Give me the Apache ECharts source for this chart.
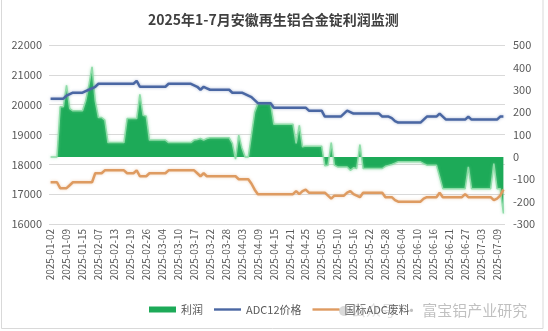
<!DOCTYPE html>
<html>
<head>
<meta charset="utf-8">
<script src="https://cdn.jsdelivr.net/npm/echarts@6/dist/echarts.min.js"></script>
<style>
html,body{margin:0;padding:0;background:#fff;}
#chart{width:548px;height:331px;}
</style>
</head>
<body>
<div id="chart"></div>
<script>
var titleText = '2025年1-7月安徽再生铝合金锭利润监测';
var seriesNames = ['利润', 'ADC12价格', '国标ADC废料'];

var dates = [
'2025-01-02','2025-01-03','2025-01-06','2025-01-07','2025-01-08',
'2025-01-09','2025-01-10','2025-01-11','2025-01-13','2025-01-14',
'2025-01-15','2025-01-16','2025-01-17','2025-01-21','2025-01-24',
'2025-02-07','2025-02-08','2025-02-10','2025-02-11','2025-02-12',
'2025-02-13','2025-02-14','2025-02-15','2025-02-17','2025-02-18',
'2025-02-19','2025-02-20','2025-02-21','2025-02-24','2025-02-25',
'2025-02-26','2025-02-27','2025-02-28','2025-03-01','2025-03-03',
'2025-03-04','2025-03-05','2025-03-06','2025-03-07','2025-03-08',
'2025-03-10','2025-03-11','2025-03-12','2025-03-13','2025-03-14',
'2025-03-17','2025-03-18','2025-03-19','2025-03-20','2025-03-21',
'2025-03-22','2025-03-24','2025-03-25','2025-03-26','2025-03-27',
'2025-03-28','2025-03-29','2025-03-31','2025-04-01','2025-04-02',
'2025-04-03','2025-04-04','2025-04-05','2025-04-07','2025-04-08',
'2025-04-09','2025-04-10','2025-04-11','2025-04-12','2025-04-14',
'2025-04-15','2025-04-16','2025-04-17','2025-04-18','2025-04-19',
'2025-04-21','2025-04-22','2025-04-23','2025-04-24','2025-04-24',
'2025-04-25','2025-04-27','2025-04-28','2025-04-29','2025-04-30',
'2025-05-05','2025-05-06','2025-05-07','2025-05-08','2025-05-09',
'2025-05-10','2025-05-12','2025-05-13','2025-05-14','2025-05-15',
'2025-05-16','2025-05-17','2025-05-19','2025-05-20','2025-05-21',
'2025-05-22','2025-05-23','2025-05-24','2025-05-26','2025-05-27',
'2025-05-28','2025-05-29','2025-05-30','2025-06-02','2025-06-03',
'2025-06-04','2025-06-05','2025-06-06','2025-06-07','2025-06-09',
'2025-06-10','2025-06-11','2025-06-12','2025-06-13','2025-06-14',
'2025-06-16','2025-06-17','2025-06-18','2025-06-19','2025-06-20',
'2025-06-21','2025-06-23','2025-06-24','2025-06-25','2025-06-26',
'2025-06-27','2025-06-28','2025-06-30','2025-07-01','2025-07-02',
'2025-07-03','2025-07-04','2025-07-05','2025-07-07','2025-07-08',
'2025-07-09','2025-07-10','2025-07-11'
];

var profit = [
0,0,0,224,224,320,216,206,206,206,
206,250,320,402,250,176,176,164,64,64,
64,64,64,64,171,171,171,171,279,186,
182,75,75,75,75,75,75,64,64,64,
64,64,64,64,64,75,78,82,75,82,
85,85,85,85,85,85,85,60,-10,97,
40,0,0,100,200,238,238,238,238,238,
146,146,146,146,146,146,146,60,141,45,
48,48,48,48,48,48,-40,-37,64,-37,
-45,-45,-45,-45,-60,-49,-52,55,-52,-52,
-52,-52,-52,-52,-52,-42,-38,-34,-28,-22,
-22,-22,-22,-22,-22,-22,-22,-30,-37,-37,
-37,-37,-89,-142,-142,-142,-142,-142,-142,-142,
-142,-45,-142,-142,-142,-142,-142,-142,-142,-30,
-142,-142,-253
];

var adc12 = [
20200,20200,20200,20200,20200,20300,20350,20400,20400,20400,
20400,20450,20500,20550,20600,20700,20700,20700,20700,20700,
20700,20700,20700,20700,20700,20700,20700,20800,20600,20600,
20600,20600,20600,20600,20600,20600,20600,20700,20700,20700,
20700,20700,20700,20700,20700,20650,20600,20500,20600,20550,
20500,20500,20500,20500,20500,20500,20500,20400,20400,20400,
20400,20350,20300,20250,20150,20050,20050,20050,20050,20050,
19900,19900,19900,19900,19900,19900,19900,19900,19900,19900,
19900,19800,19800,19800,19800,19800,19600,19600,19600,19600,
19600,19600,19700,19800,19750,19700,19700,19700,19700,19700,
19700,19700,19700,19700,19600,19600,19600,19550,19450,19400,
19400,19400,19400,19400,19400,19400,19400,19500,19600,19600,
19600,19600,19700,19600,19500,19500,19500,19500,19500,19500,
19500,19600,19500,19500,19500,19500,19500,19500,19500,19500,
19500,19600,19600
];

var scrap = [
17400,17400,17400,17200,17200,17200,17300,17400,17400,17400,
17400,17400,17400,17400,17700,17700,17700,17800,17800,17800,
17800,17800,17800,17800,17700,17700,17700,17800,17600,17600,
17600,17700,17700,17700,17700,17700,17700,17800,17800,17800,
17800,17800,17800,17800,17800,17800,17700,17600,17700,17600,
17600,17600,17600,17600,17600,17600,17600,17600,17600,17500,
17500,17500,17500,17350,17150,17000,17000,17000,17000,17000,
17000,17000,17000,17000,17000,17000,17000,17100,17000,17100,
17150,17050,17050,17050,17050,17050,17050,16950,16850,16950,
16950,16950,16950,17050,17100,17000,16950,16900,17050,17050,
17050,17050,17050,17050,17050,16900,16900,16900,16800,16750,
16750,16750,16750,16750,16750,16750,16750,16850,16900,16900,
16900,16900,17050,16900,16900,16900,16900,16900,16900,16900,
17000,16900,16900,16900,16900,16900,16900,16900,16900,16800,
16850,16950,17150
];

var leftTicks = {min: 16000, max: 22000, interval: 1000};
var rightTicks = {min: -300, max: 500, interval: 100};

var FONT = '"Noto Sans CJK SC", "Noto Sans", sans-serif';
var LINE_ICON = 'path://M0,0 L28,0 L28,2.5 L0,2.5 Z';
var chart = echarts.init(document.getElementById('chart'), null, {renderer: 'canvas'});
chart.setOption({
  animation: false,
  backgroundColor: '#ffffff',
  title: {
    text: titleText,
    left: 143, top: 8,
    textStyle: {fontFamily: FONT, fontSize: 14, fontWeight: 'bold', color: '#404040'}
  },
  grid: {left: 49, right: 43, top: 45, bottom: 107},
  legend: {
    left: 149, top: 304, padding: 0,
    itemWidth: 27, itemHeight: 6, itemGap: 11,
    textStyle: {fontFamily: FONT, fontSize: 11, color: '#595959'},
    data: [
      {name: seriesNames[0], icon: 'rect'},
      {name: seriesNames[1], icon: LINE_ICON},
      {name: seriesNames[2], icon: LINE_ICON}
    ]
  },
  xAxis: {
    type: 'category', data: dates, boundaryGap: true,
    axisLine: {show: false, onZero: false},
    axisTick: {show: false},
    axisLabel: {interval: 4, rotate: 90, fontFamily: FONT, fontSize: 10, color: '#595959', margin: 5}
  },
  yAxis: [
    {
      type: 'value', min: leftTicks.min, max: leftTicks.max, interval: leftTicks.interval,
      axisLine: {show: false}, axisTick: {show: false},
      splitLine: {lineStyle: {color: '#d9d9d9', width: 1}},
      axisLabel: {fontFamily: FONT, fontSize: 11, color: '#595959', margin: 7,
        formatter: function (v) { return String(v); }}
    },
    {
      type: 'value', position: 'right', min: rightTicks.min, max: rightTicks.max, interval: rightTicks.interval,
      axisLine: {show: false}, axisTick: {show: false}, splitLine: {show: false},
      axisLabel: {fontFamily: FONT, fontSize: 11, color: '#595959', margin: 8,
        formatter: function (v) { return String(v); }}
    }
  ],
  series: [
    {
      name: seriesNames[0], type: 'line', yAxisIndex: 1, data: profit,
      symbol: 'none', smooth: false,
      lineStyle: {width: 1.5, color: '#8fdca8', shadowBlur: 3, shadowColor: 'rgba(120,210,150,0.7)'},
      itemStyle: {color: '#1DAA58'},
      areaStyle: {color: '#1DAA58', opacity: 1}
    },
    {
      name: seriesNames[1], type: 'line', yAxisIndex: 0, data: adc12,
      symbol: 'none', smooth: false,
      lineStyle: {width: 2.5, color: '#4A67A3', shadowBlur: 3, shadowColor: 'rgba(74,103,163,0.45)'},
      itemStyle: {color: '#4A67A3'}
    },
    {
      name: seriesNames[2], type: 'line', yAxisIndex: 0, data: scrap,
      symbol: 'none', smooth: false,
      lineStyle: {width: 2.5, color: '#DE9B61', shadowBlur: 3, shadowColor: 'rgba(222,155,97,0.45)'},
      itemStyle: {color: '#DE9B61'}
    }
  ],
  graphic: [
    {type: 'rect', shape: {x: 1.5, y: -2, width: 541.5, height: 330.5},
     style: {fill: null, stroke: '#d9d9d9', lineWidth: 1}, silent: true, z: 0},
    {type: 'circle', shape: {cx: 344, cy: 311, r: 5}, style: {fill: 'rgba(150,150,150,0.35)'}, silent: true, z: 100},
    {type: 'text', left: 351, top: 303,
     style: {text: '公众号', fontFamily: FONT, fontSize: 15, fill: 'rgba(150,150,150,0.3)'}, silent: true, z: 100},
    {type: 'text', left: 404, top: 303,
     style: {text: '· 富宝铝产业研究', fontFamily: FONT, fontSize: 15, fill: 'rgba(140,140,140,0.55)'}, silent: true, z: 100}
  ]
});
</script>
</body>
</html>
